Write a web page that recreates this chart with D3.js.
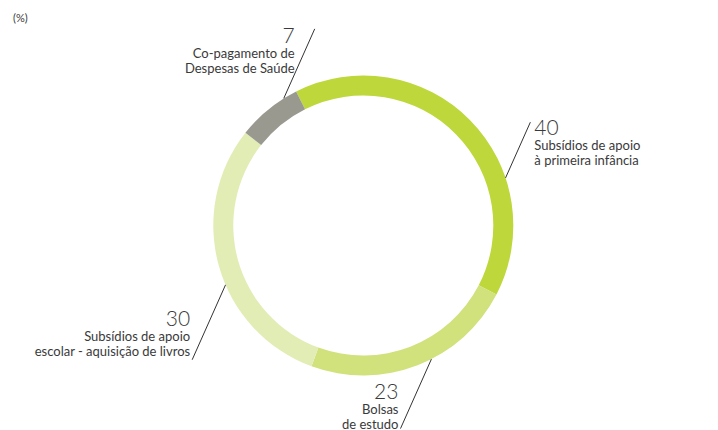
<!DOCTYPE html>
<html>
<head>
<meta charset="utf-8">
<script src="https://cdn.jsdelivr.net/npm/d3@7"></script>
<style>
  body { margin: 0; background: #fff; }
  text { font-family: Lato, "Open Sans", sans-serif; fill: #3a3a3a; }
</style>
</head>
<body>
<div id="chart"></div>
<script>
// data
var categories = ["Subsídios de apoio|à primeira infância", "Bolsas|de estudo", "Subsídios de apoio|escolar - aquisição de livros", "Co-pagamento de|Despesas de Saúde"];
var values = [40, 23, 30, 7];
var colors = ["#bed73b", "#d1e17b", "#e2edb5", "#999990"];
var unitLabel = "(%)";

// label layout (angle on ring in degrees, leader length, text placement)
var labelLayout = [
  { angle: 71.5, len: 61, side: "right", dx: 4, dy: 13 },
  { angle: 153, len: 76, side: "left", dx: -2, dy: -30 },
  { angle: 246.7, len: 82, side: "left", dx: -2, dy: -34 },
  { angle: -32, len: 76, side: "left", dx: -20, dy: 14 }
];

var width = 718, height = 430;
var cx = 363.3, cy = 225.5;
var outerR = 150, innerR = 130;
var leanX = Math.sin(24 * Math.PI / 180), leanY = Math.cos(24 * Math.PI / 180);

var svg = d3.select("#chart").append("svg")
  .attr("width", width)
  .attr("height", height);

svg.append("text")
  .attr("x", 13)
  .attr("y", 22)
  .attr("font-size", "11px")
  .text(unitLabel);

var pie = d3.pie()
  .sort(null)
  .value(function(d) { return d; })
  .startAngle(-26.6 * Math.PI / 180)
  .endAngle((360 - 26.6) * Math.PI / 180);

var arc = d3.arc()
  .innerRadius(innerR)
  .outerRadius(outerR);

var ring = svg.append("g")
  .attr("transform", "translate(" + cx + "," + cy + ")");

ring.selectAll("path")
  .data(pie(values))
  .enter()
    .append("path")
    .attr("d", arc)
    .attr("fill", function(d, i) { return colors[i]; });

// labels
var labels = svg.selectAll("g.label")
  .data(values)
  .enter()
    .append("g")
    .attr("class", "label");

labels.each(function(v, i) {
  var g = d3.select(this);
  var lay = labelLayout[i];
  var a = lay.angle * Math.PI / 180;
  var x0 = cx + outerR * Math.sin(a),
      y0 = cy - outerR * Math.cos(a);
  var up = lay.side === "right" || lay.angle < 0;
  var x1 = x0 + (up ? 1 : -1) * lay.len * leanX,
      y1 = y0 + (up ? -1 : 1) * lay.len * leanY;

  g.append("line")
    .attr("x1", x0).attr("y1", y0)
    .attr("x2", x1).attr("y2", y1)
    .attr("stroke", "#333")
    .attr("stroke-width", 1);

  var anchor = lay.side === "right" ? "start" : "end";
  var tx = x1 + lay.dx;
  var ty = lay.angle < 0 ? y1 : y1 + lay.dy;
  if (lay.angle < 0) ty = y1 + lay.dy;

  g.append("text")
    .attr("x", tx)
    .attr("y", ty)
    .attr("text-anchor", anchor)
    .attr("font-size", "21px")
    .attr("font-weight", 300)
    .text(v);

  categories[i].split("|").forEach(function(line, k) {
    g.append("text")
      .attr("x", tx)
      .attr("y", ty + 15 + k * 15)
      .attr("text-anchor", anchor)
      .attr("font-size", "13px")
      .text(line);
  });
});
</script>
</body>
</html>
